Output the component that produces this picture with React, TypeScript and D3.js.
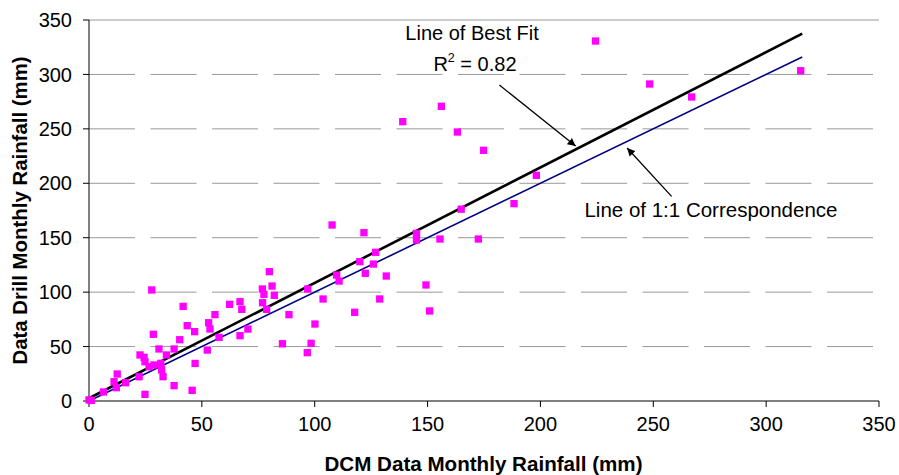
import React from "react";
import * as d3 from "d3";

const xTicks = [0, 50, 100, 150, 200, 250, 300, 350];
const yTicks = [0, 50, 100, 150, 200, 250, 300, 350];

// DCM (x) vs Data Drill (y) monthly rainfall, mm
const dcm = [
  0, 1, 6.4, 11.1, 12.1, 12.5, 16.2, 22.2, 22.6, 24.4, 24.8, 24.8, 26.6, 27.8, 28.5, 28.8,
  31, 31.8, 32.2, 32.8, 34.3, 37.7, 37.7, 40.2, 41.7, 43.5, 45.7, 46.8, 47, 52.4, 53, 53.6,
  55.8, 57.6, 62.3, 66.9, 67.7, 66.9, 70.4, 76.8, 77.5, 76.9, 78.7, 79.9, 81.1, 82.1, 85.7,
  88.6, 96.9, 96.7, 98.4, 100.1, 103.7, 107.7, 109.7, 110.8, 117.7, 120, 121.8, 122.4, 126,
  127, 128.8, 131.7, 139, 145.1, 145.1, 149.3, 150.9, 155.5, 156.1, 163.2, 164.9, 172.5,
  174.8, 188.3, 198.2, 224.4, 248.4, 267, 315.3,
];
const drill = [
  1, 0.5, 8.3, 17.7, 12.2, 24.8, 16.8, 22.3, 42.3, 40.1, 36.1, 6.1, 31.5, 102, 61.3, 33.1,
  47.8, 34.6, 28.5, 22.3, 42.3, 47.8, 14.1, 56.3, 86.9, 69.2, 9.8, 63.7, 34.5, 46.8, 71.9, 66.1,
  79.3, 58.5, 88.8, 91.2, 84.2, 60, 66.1, 102.9, 98, 90.3, 84.2, 118.8, 105.6, 97.1, 52.6,
  79.3, 102.9, 44.4, 53, 70.7, 93.7, 161.7, 115.7, 110.2, 81.5, 128, 154.6, 117.3, 125.8,
  136.6, 93.7, 114.8, 256.6, 154, 147.9, 106.6, 82.7, 148.8, 270.7, 247.1, 176.2, 148.8,
  230.3, 181.3, 207.3, 330.7, 291.2, 279.3, 303.4,
];

const bestFitX = [0, 316];
const bestFitY = [2.5, 337.5];
const oneToOneX = [0, 316];
const oneToOneY = [0, 316];

const FONT = "'Liberation Sans', Arial, Helvetica, sans-serif";

export default function App() {
  const W = 899;
  const H = 475;
  const x = d3.scaleLinear().domain([0, 350]).range([89, 879]);
  const y = d3.scaleLinear().domain([0, 350]).range([401, 20]);
  const line = d3
    .line<[number, number]>()
    .x((d) => x(d[0]))
    .y((d) => y(d[1]));
  const bf: [number, number][] = bestFitX.map((v, i) => [v, bestFitY[i]]);
  const oo: [number, number][] = oneToOneX.map((v, i) => [v, oneToOneY[i]]);
  const S = 7.3;

  const arrows = [
    { x1: 181.8, y1: 290.3, x2: 215.6, y2: 234.2 },
    { x1: 258.1, y1: 188, x2: 238.4, y2: 232.4 },
  ];

  return (
    <svg
      width={W}
      height={H}
      style={{ position: "absolute", left: 0, top: 0, background: "#fff" }}
      fontFamily={FONT}
    >
      <defs>
        <marker
          id="ah"
          viewBox="0 0 10 10"
          refX="10"
          refY="5"
          markerWidth="8"
          markerHeight="8"
          markerUnits="userSpaceOnUse"
          orient="auto"
        >
          <path d="M0,0 L10,5 L0,10 z" fill="#000" />
        </marker>
      </defs>
      <rect width={W} height={H} fill="#fff" />
      {/* gridlines */}
      {yTicks
        .filter((t) => t > 0)
        .map((t) => (
          <line
            key={"g" + t}
            x1={x(0)}
            x2={x(350)}
            y1={y(t)}
            y2={y(t)}
            stroke="#999999"
            strokeWidth={1}
            strokeDasharray={t === 350 ? undefined : "46,15.5"}
          />
        ))}
      {/* axes */}
      <line x1={x(0)} x2={x(0)} y1={y(0)} y2={y(350)} stroke="#000" strokeWidth={1} />
      <line x1={x(0)} x2={x(350)} y1={y(0)} y2={y(0)} stroke="#000" strokeWidth={1} />
      {yTicks.map((t) => (
        <g key={"yt" + t}>
          <line x1={x(0) - 6} x2={x(0)} y1={y(t)} y2={y(t)} stroke="#000" />
          <text
            x={x(0) - 17}
            y={y(t)}
            dy="0.36em"
            textAnchor="end"
            fontSize={20}
            fill="#000"
          >
            {t}
          </text>
        </g>
      ))}
      {xTicks.map((t) => (
        <g key={"xt" + t}>
          <line x1={x(t)} x2={x(t)} y1={y(0)} y2={y(0) + 6} stroke="#000" />
          <text x={x(t)} y={430.5} textAnchor="middle" fontSize={20} fill="#000">
            {t}
          </text>
        </g>
      ))}
      {/* lines */}
      <path d={line(oo) || ""} stroke="#000080" strokeWidth={1.6} fill="none" />
      <path d={line(bf) || ""} stroke="#000" strokeWidth={2.6} fill="none" />
      {/* points */}
      {dcm.map((v, i) => (
        <rect
          key={"p" + i}
          x={x(v) - S / 2}
          y={y(drill[i]) - S / 2}
          width={S}
          height={S}
          fill="#ff00ff"
        />
      ))}
      {/* annotations */}
      {arrows.map((a, i) => (
        <line
          key={"a" + i}
          x1={x(a.x1)}
          y1={y(a.y1)}
          x2={x(a.x2)}
          y2={y(a.y2)}
          stroke="#000"
          strokeWidth={1.3}
          markerEnd="url(#ah)"
        />
      ))}
      <text x={x(169.7)} y={y(331.6)} textAnchor="middle" fontSize={20} fill="#000">
        Line of Best Fit
      </text>
      <text x={x(171)} y={y(303)} textAnchor="middle" fontSize={20} fill="#000">
        R<tspan fontSize={12.5} dy={-9}>2</tspan>
        <tspan dy={9}> = 0.82</tspan>
      </text>
      <text x={x(219.5)} y={y(169)} textAnchor="start" fontSize={20.5} fill="#000">
        Line of 1:1 Correspondence
      </text>
      {/* axis titles */}
      <text
        x={(x(0) + x(350)) / 2 - 0.5}
        y={471}
        textAnchor="middle"
        fontSize={20.6}
        fontWeight="bold"
        fill="#000"
      >
        DCM Data Monthly Rainfall (mm)
      </text>
      <text
        transform={`translate(27, ${(y(0) + y(350)) / 2}) rotate(-90)`}
        textAnchor="middle"
        fontSize={20.4}
        fontWeight="bold"
        fill="#000"
      >
        Data Drill Monthly Rainfall (mm)
      </text>
    </svg>
  );
}
